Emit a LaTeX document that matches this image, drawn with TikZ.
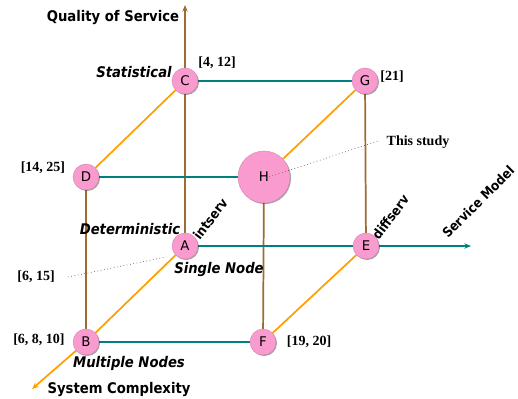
\documentclass[tikz,border=0pt]{standalone}
\usepackage{fontspec}
\setmainfont{Liberation Serif}
\setsansfont{DejaVu Sans}
\newfontfamily\condsans{DejaVu Sans Condensed}
\usetikzlibrary{shadows,backgrounds,arrows.meta}
\definecolor{nodepink}{RGB}{249,155,206}
\definecolor{axteal}{RGB}{0,128,128}
\definecolor{axbrown}{RGB}{160,106,50}
\definecolor{axorange}{RGB}{255,160,0}
\begin{document}
\begin{tikzpicture}[x=0.75pt,y=-0.75pt,
  vert/.style={circle,fill=nodepink,draw=nodepink!85!black,line width=0.3pt,minimum size=19.5pt,inner sep=0pt,
    font=\sffamily\fontsize{10}{12}\selectfont,
    drop shadow={shadow xshift=0.8pt,shadow yshift=-0.8pt,fill=black,opacity=0.35}},
  bigvert/.style={vert,minimum size=39pt},
  tealline/.style={draw=axteal,line width=1.3pt},
  brownline/.style={draw=axbrown,line width=1.3pt},
  orangeline/.style={draw=axorange,line width=1.3pt},
  ref/.style={font=\bfseries\fontsize{10.5}{12}\selectfont},
  axlabel/.style={font=\condsans\bfseries\fontsize{11}{13}\selectfont},
  rotlabel/.style={font=\condsans\bfseries\fontsize{10}{12}\selectfont,inner sep=1pt},
  itlabel/.style={font=\condsans\bfseries\itshape\fontsize{11}{13}\selectfont},
  leader/.style={draw=black!70,line width=0.5pt,dotted},
  tip/.style={-{Stealth[length=5pt,width=4pt]}}
]
\useasboundingbox (0,0) rectangle (518,399);
% nodes
\node[vert] (C) at (185,81) {C};
\node[vert] (G) at (365,81) {G};
\node[vert] (D) at (86,177) {D};
\node[bigvert] (H) at (264,177) {H};
\node[vert] (A) at (185,246) {A};
\node[vert] (E) at (366,246) {E};
\node[vert] (B) at (86,342) {B};
\node[vert] (F) at (263,342) {F};
\coordinate (qos) at (185,5);
\coordinate (sm) at (471,246);
\coordinate (sc) at (32,389);
\coordinate (hc) at (266,178);
\coordinate (ts) at (378,141);
\coordinate (l615) at (68,277);
\coordinate (l615b) at (166,257);
\begin{scope}[on background layer]
  \draw[brownline] (A) -- (C);
  \draw[brownline,tip] (C) -- (qos);
  \draw[brownline] (D) -- (B);
  \draw[brownline] (H) -- (F);
  \draw[brownline] (G) -- (E);
  \draw[tealline] (C) -- (G);
  \draw[tealline] (D) -- (H);
  \draw[tealline] (A) -- (E);
  \draw[tealline,tip] (E) -- (sm);
  \draw[tealline] (B) -- (F);
  \draw[orangeline] (C) -- (D);
  \draw[orangeline] (G) -- (H);
  \draw[orangeline] (E) -- (F);
  \draw[orangeline] (A) -- (B);
  \draw[orangeline,tip] (B) -- (sc);
\end{scope}
\draw[leader] (hc) -- (ts);
\draw[leader] (l615) -- (l615b);
% labels
\node[axlabel] (lqos) at (113,18) {Quality of Service};
\node[axlabel] (lsc) at (119,390) {System Complexity};
\node[rotlabel,rotate=45,anchor=base west] (lsm) at (447,240) {Service Model};
\node[rotlabel,rotate=53,anchor=base west] (lint) at (199,242) {intserv};
\node[rotlabel,rotate=53,anchor=base west] (ldiff) at (378,242) {diffserv};
\node[itlabel] (lstat) at (134,72) {Statistical};
\node[itlabel] (ldet) at (130,229) {Deterministic};
\node[itlabel] (lsingle) at (219,270) {Single Node};
\node[itlabel] (lmult) at (129,363) {Multiple Nodes};
\node[ref] (r412) at (217,63) {[4, 12]};
\node[ref] (r21) at (392,77) {[21]};
\node[ref] (r1425) at (43,168) {[14, 25]};
\node[ref] (rts) at (418,142) {This study};
\node[ref] (r615) at (36,277) {[6, 15]};
\node[ref] (r6810) at (39,340) {[6, 8, 10]};
\node[ref] (r1920) at (309,342) {[19, 20]};
\end{tikzpicture}
\end{document}
